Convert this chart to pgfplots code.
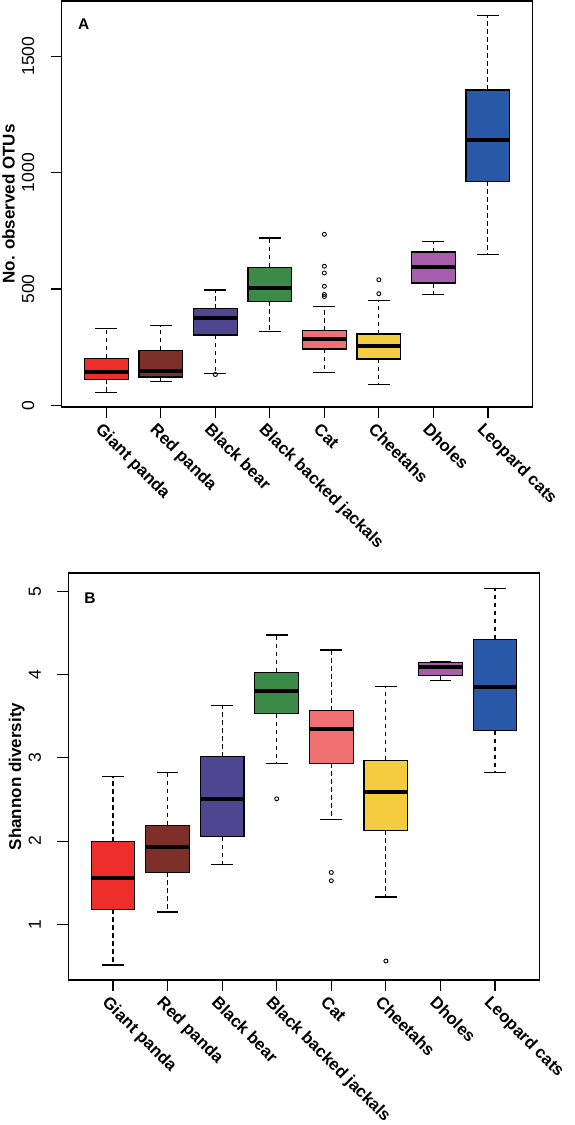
\documentclass[border=0pt]{standalone}
\usepackage{fontspec}
\setmainfont{Liberation Sans}
\usepackage{pgfplots}
\pgfplotsset{compat=1.18}
\usepgfplotslibrary{statistics}
\definecolor{cGP}{HTML}{EE2E2A}
\definecolor{cRP}{HTML}{7E2F28}
\definecolor{cBB}{HTML}{4E4690}
\definecolor{cBJ}{HTML}{3B8A47}
\definecolor{cCat}{HTML}{F07073}
\definecolor{cCh}{HTML}{F3CD3F}
\definecolor{cDh}{HTML}{A65EAA}
\definecolor{cLC}{HTML}{2A58A8}
\pgfplotsset{
  bp/.style={draw=black, mark=o, mark size=2pt, mark options={line width=0.9pt,solid,black},
    boxplot/draw direction=y,
    boxplot/box extend=0.8,
    boxplot/every median/.style={line width=4pt},
    boxplot/draw/lower whisker/.code={%
      \draw[dash pattern=on 4.5pt off 3.5pt, line width=1.1pt]
        (boxplot box cs:\pgfplotsboxplotvalue{lower quartile},0.5) --
        (boxplot box cs:\pgfplotsboxplotvalue{lower whisker},0.5);
      \draw[line width=1.2pt]
        (boxplot box cs:\pgfplotsboxplotvalue{lower whisker},0.25) --
        (boxplot box cs:\pgfplotsboxplotvalue{lower whisker},0.75);
    },
    boxplot/draw/upper whisker/.code={%
      \draw[dash pattern=on 4.5pt off 3.5pt, line width=1.1pt]
        (boxplot box cs:\pgfplotsboxplotvalue{upper quartile},0.5) --
        (boxplot box cs:\pgfplotsboxplotvalue{upper whisker},0.5);
      \draw[line width=1.2pt]
        (boxplot box cs:\pgfplotsboxplotvalue{upper whisker},0.25) --
        (boxplot box cs:\pgfplotsboxplotvalue{upper whisker},0.75);
    },
  },
  bx/.style={boxplot/every box/.style={draw=black,line width=1.2pt,fill=#1}},
  myaxis/.style={
    scale only axis, anchor=south west,
    xmin=0.18, xmax=8.82,
    xtick={1,2,3,4,5,6,7,8},
    xticklabels={Giant panda,Red panda,Black bear,Black backed jackals,Cat,Cheetahs,Dholes,Leopard cats},
    xtick pos=left, ytick pos=left,
    tick align=outside, major tick length=11pt,
    tick style={black,line width=1.2pt},
    axis line style={line width=1.3pt},
    /pgf/number format/assume math mode=true,
    /pgf/number format/1000 sep={},
    yticklabel style={font=\fontsize{17.5}{17.5}\selectfont, xshift=-16pt, rotate=90, anchor=south, inner sep=0pt},
    xticklabel style={font=\fontsize{16.8}{16.8}\selectfont\bfseries, xshift=-11.5pt, yshift=-12.5pt, rotate=-45, anchor=base west, inner sep=0pt},
    ylabel style={font=\fontsize{17}{17}\selectfont\bfseries, at={(axis description cs:-0.0996,0.5)}, anchor=base, inner sep=0pt},
    scaled y ticks=false,
  },
}
\begin{document}
\begin{tikzpicture}
\path[use as bounding box] (0,0) rectangle (575pt,1125pt);
% Panel A
\begin{axis}[myaxis, at={(61.6pt,718pt)}, width=471pt, height=406pt,
  ymin=-6.4, ymax=1737, ytick={0,500,1000,1500},
  ylabel={No. observed OTUs}]
\addplot[bp, bx=cGP, boxplot prepared={draw position=1, lower whisker=57, lower quartile=113, median=142, upper quartile=202, upper whisker=332}] coordinates {};
\addplot[bp, bx=cRP, boxplot prepared={draw position=2, lower whisker=103, lower quartile=122, median=150, upper quartile=237, upper whisker=342}] coordinates {};
\addplot[bp, bx=cBB, boxplot prepared={draw position=3, lower whisker=136, lower quartile=303, median=377, upper quartile=415, upper whisker=496}] coordinates {(3,133)};
\addplot[bp, bx=cBJ, boxplot prepared={draw position=4, lower whisker=317, lower quartile=448, median=503, upper quartile=593, upper whisker=719}] coordinates {};
\addplot[bp, bx=cCat, boxplot prepared={draw position=5, lower whisker=143, lower quartile=243, median=286, upper quartile=322, upper whisker=425}] coordinates {(5,735) (5,598) (5,569) (5,512) (5,477) (5,468)};
\addplot[bp, bx=cCh, boxplot prepared={draw position=6, lower whisker=89, lower quartile=200, median=256, upper quartile=307, upper whisker=450}] coordinates {(6,540) (6,480)};
\addplot[bp, bx=cDh, boxplot prepared={draw position=7, lower whisker=478, lower quartile=526, median=595, upper quartile=659, upper whisker=705}] coordinates {};
\addplot[bp, bx=cLC, boxplot prepared={draw position=8, lower whisker=649, lower quartile=962, median=1140, upper quartile=1355, upper whisker=1674}] coordinates {};
\node[anchor=base west, inner sep=0pt, font=\fontsize{15.5}{15.5}\selectfont\bfseries] at (axis description cs:0.0348,0.9303) {A};
\end{axis}
% Panel B
\begin{axis}[myaxis, at={(68.2pt,145pt)}, width=471.6pt, height=407pt,
  ymin=0.332, ymax=5.22, ytick={1,2,3,4,5},
  ylabel={Shannon diversity}]
\addplot[bp, bx=cGP, boxplot prepared={draw position=1, lower whisker=0.512, lower quartile=1.18, median=1.552, upper quartile=1.992, upper whisker=2.772}] coordinates {};
\addplot[bp, bx=cRP, boxplot prepared={draw position=2, lower whisker=1.148, lower quartile=1.624, median=1.932, upper quartile=2.192, upper whisker=2.824}] coordinates {};
\addplot[bp, bx=cBB, boxplot prepared={draw position=3, lower whisker=1.716, lower quartile=2.052, median=2.5, upper quartile=3.012, upper whisker=3.632}] coordinates {};
\addplot[bp, bx=cBJ, boxplot prepared={draw position=4, lower whisker=2.936, lower quartile=3.532, median=3.808, upper quartile=4.028, upper whisker=4.476}] coordinates {(3.96,2.508)};
\addplot[bp, bx=cCat, boxplot prepared={draw position=5, lower whisker=2.256, lower quartile=2.936, median=3.352, upper quartile=3.564, upper whisker=4.296}] coordinates {(4.96,1.624) (4.96,1.524)};
\addplot[bp, bx=cCh, boxplot prepared={draw position=6, lower whisker=1.328, lower quartile=2.128, median=2.592, upper quartile=2.972, upper whisker=3.86}] coordinates {(5.96,0.56)};
\addplot[bp, bx=cDh, boxplot prepared={draw position=7, lower whisker=3.932, lower quartile=3.992, median=4.088, upper quartile=4.144, upper whisker=4.16}] coordinates {};
\addplot[bp, bx=cLC, boxplot prepared={draw position=8, lower whisker=2.824, lower quartile=3.324, median=3.852, upper quartile=4.424, upper whisker=5.036}] coordinates {};
\node[anchor=base west, inner sep=0pt, font=\fontsize{15.5}{15.5}\selectfont\bfseries] at (axis description cs:0.0341,0.9248) {B};
\end{axis}
\end{tikzpicture}
\end{document}
